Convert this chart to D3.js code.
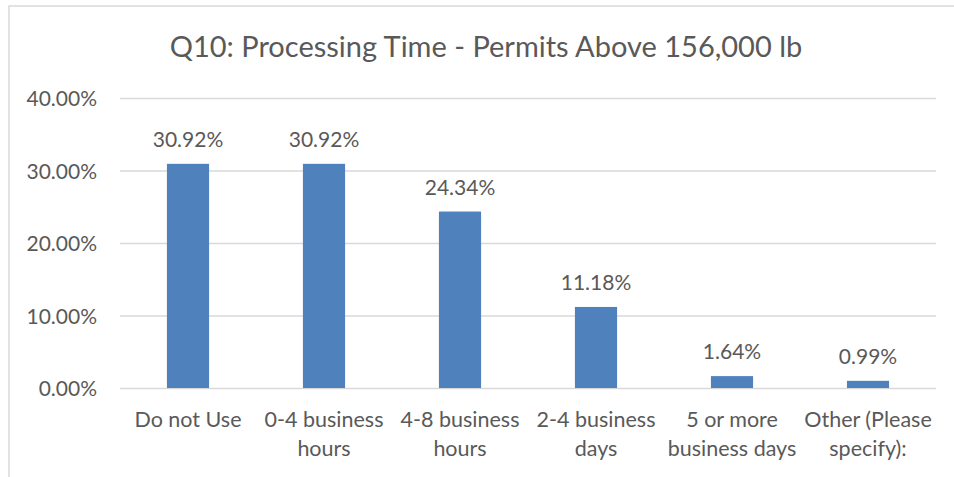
<!DOCTYPE html>
<html>
<head>
<meta charset="utf-8">
<script src="https://cdn.jsdelivr.net/npm/d3@7"></script>
<style>
  html, body { margin: 0; padding: 0; background: #fff; }
  svg { display: block; }
  text { font-family: Lato, "Noto Sans", sans-serif; fill: #595959; }
</style>
</head>
<body>
<svg id="chart" width="954" height="477"></svg>
<script>
const title = "Q10: Processing Time - Permits Above 156,000 lb";
const categories = [
  ["Do not Use"],
  ["0-4 business", "hours"],
  ["4-8 business", "hours"],
  ["2-4 business", "days"],
  ["5 or more", "business days"],
  ["Other (Please", "specify):"]
];
const values = [30.92, 30.92, 24.34, 11.18, 1.64, 0.99];
const yTicks = [0, 10, 20, 30, 40];

const svg = d3.select("#chart");
const W = 954, H = 477;
const plot = { left: 120, right: 936, top: 98, bottom: 388 };

// outer chart border
svg.append("rect")
  .attr("x", 9).attr("y", 6).attr("width", W + 20).attr("height", H + 20)
  .attr("fill", "#fff").attr("stroke", "#d9d9d9").attr("stroke-width", 1.5);

const ids = categories.map((c, i) => i);
const x = d3.scaleBand().domain(ids).range([plot.left, plot.right])
  .paddingInner(0.69).paddingOuter(0.345);
const y = d3.scaleLinear().domain([0, 40]).range([plot.bottom, plot.top]);

// gridlines + y tick labels via axis
const yAxis = d3.axisLeft(y).tickValues(yTicks)
  .tickSize(-(plot.right - plot.left))
  .tickPadding(23)
  .tickFormat(d => d.toFixed(2) + "%");
const gy = svg.append("g").attr("transform", `translate(${plot.left},0)`).call(yAxis);
gy.select(".domain").remove();
gy.selectAll(".tick line").attr("stroke", "#d9d9d9").attr("stroke-width", 1.5);
gy.selectAll(".tick text").attr("font-size", 21).attr("fill", "#595959")
  .attr("font-family", "Lato, 'Noto Sans', sans-serif").attr("dy", "0.36em");

// bars
svg.append("g").selectAll("rect").data(values).join("rect")
  .attr("x", (d, i) => x(i))
  .attr("width", x.bandwidth())
  .attr("y", d => y(d))
  .attr("height", d => y(0) - y(d))
  .attr("fill", "#4F81BD");

// value labels
svg.append("g").selectAll("text").data(values).join("text")
  .attr("x", (d, i) => x(i) + x.bandwidth() / 2)
  .attr("y", d => y(d) - 17)
  .attr("text-anchor", "middle")
  .attr("font-size", 21)
  .text(d => d.toFixed(2) + "%");

// category labels
const cg = svg.append("g").selectAll("text").data(categories).join("text")
  .attr("text-anchor", "middle")
  .attr("font-size", 21.5)
  .attr("transform", (d, i) => `translate(${x(i) + x.bandwidth() / 2},0)`);
cg.selectAll("tspan").data(d => d).join("tspan")
  .attr("x", 0)
  .attr("y", (d, j) => 427 + j * 29)
  .text(d => d);

// title
svg.append("text")
  .attr("x", 486).attr("y", 57)
  .attr("text-anchor", "middle")
  .attr("font-size", 29)
  .text(title);
</script>
</body>
</html>
